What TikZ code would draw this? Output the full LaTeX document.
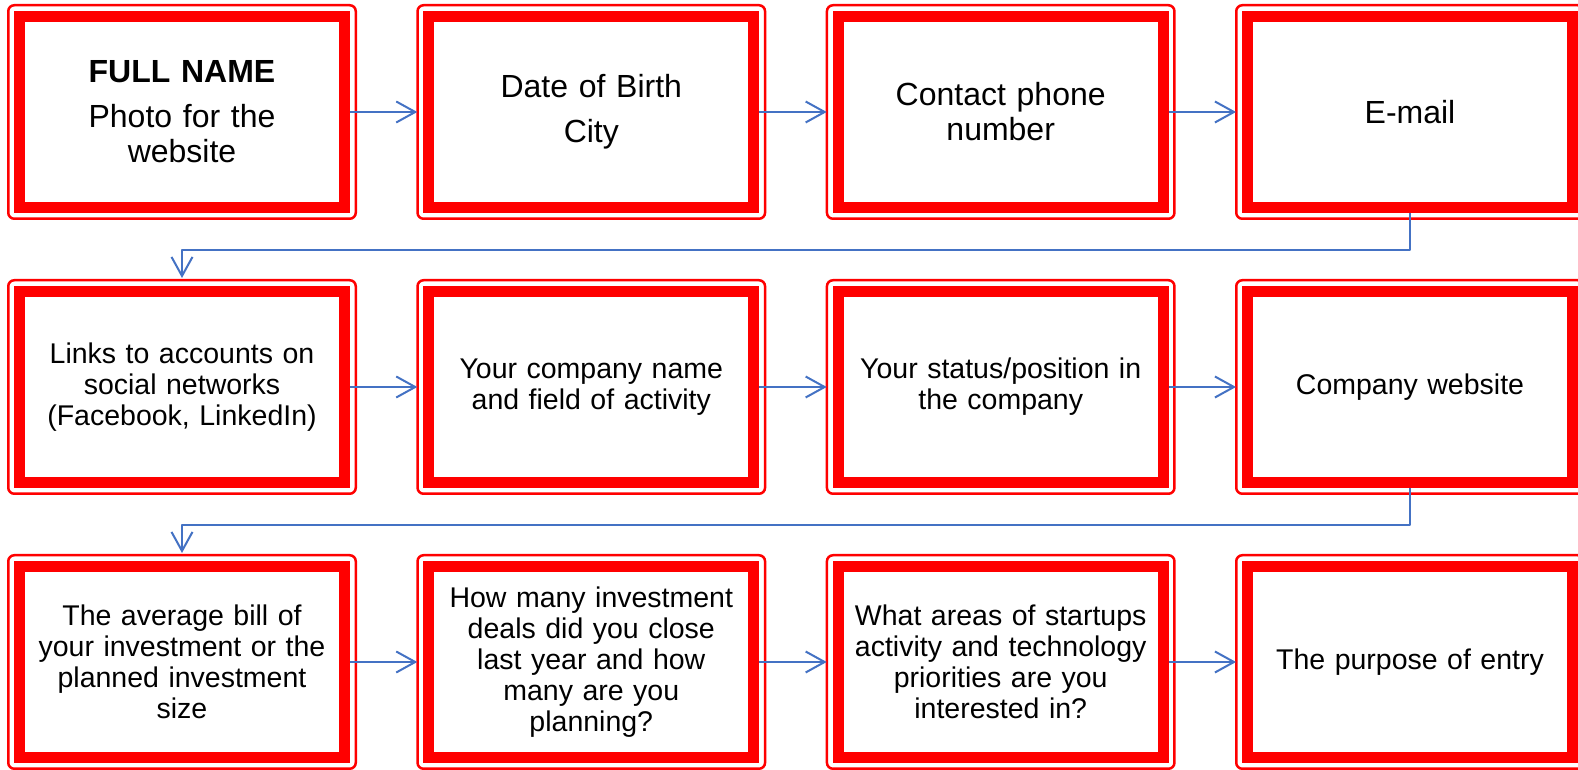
\documentclass[tikz,border=0pt]{standalone}
\usepackage{fontspec}
\setmainfont{Liberation Sans}
\usetikzlibrary{arrows.meta}
\definecolor{boxred}{RGB}{255,0,0}
\definecolor{linkblue}{RGB}{68,114,196}

\begin{document}
\begin{tikzpicture}[x=1pt,y=1pt,
    card/.style={draw=boxred,line width=11pt,minimum width=325pt,minimum height=191pt,
      text width=300pt,align=center,font=\fontsize{28.5}{31}\selectfont},
    big/.style={font=\fontsize{32}{35}\selectfont},
    rim/.style={draw=boxred,line width=2.5pt,rounded corners=6pt},
    link/.style={draw=linkblue,line width=2pt,line join=round,
      -{Straight Barb[length=19pt,width=21pt]}}]
    \useasboundingbox (0,0) rectangle (1578,770);
    \fill[white] (0,0) rectangle (1578,770);
    % first row
    \node[card,big] (b1) at (182,658) {\textbf{FULL NAME}\\[10pt]Photo for the\\website};
    \node[card,big] (b2) at (591.3,658) {Date of Birth\\[10pt]City};
    \node[card,big] (b3) at (1000.7,658) {Contact phone\\number};
    \node[card,big] (b4) at (1410,658) {E-mail};
    % second row
    \node[card] (b5) at (182,383) {Links to accounts on\\social networks\\(Facebook, LinkedIn)};
    \node[card] (b6) at (591.3,383) {Your company name\\and field of activity};
    \node[card] (b7) at (1000.7,383) {Your status/position in\\the company};
    \node[card] (b8) at (1410,383) {Company website};
    % third row
    \node[card] (b9) at (182,108) {The average bill of\\your investment or the\\planned investment\\size};
    \node[card] (b10) at (591.3,108) {How many investment\\deals did you close\\last year and how\\many are you\\planning?};
    \node[card] (b11) at (1000.7,108) {What areas of startups\\activity and technology\\priorities are you\\interested in?};
    \node[card] (b12) at (1410,108) {The purpose of entry};
    % thin outer frames
    \foreach \i in {1,...,12}
      \draw[rim] ([shift={(-5.75,5.75)}]b\i.north west) rectangle ([shift={(5.75,-5.75)}]b\i.south east);
    % arrows
    \foreach \a/\b in {1/2,2/3,3/4,5/6,6/7,7/8,9/10,10/11,11/12}
      \draw[link,shorten >=6pt] (b\a) -- (b\b);
    \draw[link,shorten >=8pt] (b4.south) -- ++(0,-37) -| (b5.north);
    \draw[link,shorten >=8pt] (b8.south) -- ++(0,-37) -| (b9.north);
\end{tikzpicture}
\end{document}
